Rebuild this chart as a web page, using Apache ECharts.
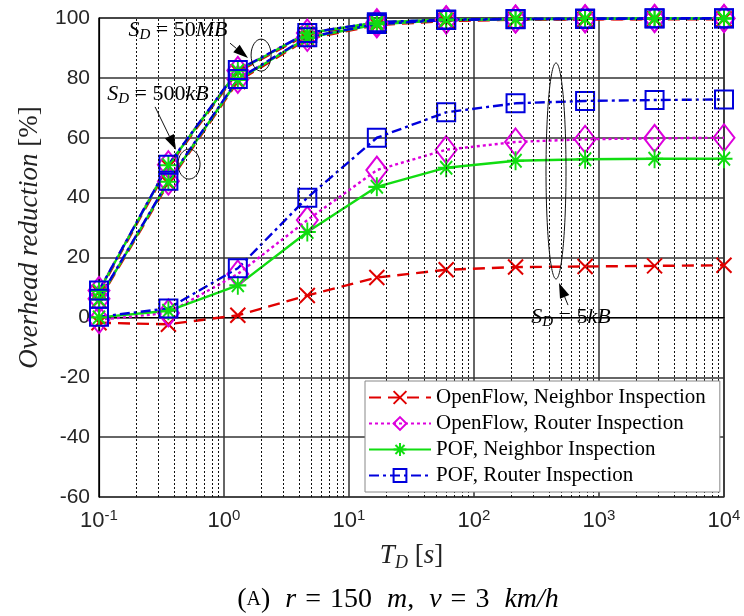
<!DOCTYPE html>
<html><head><meta charset="utf-8">
<script src="https://cdn.jsdelivr.net/npm/echarts@6/dist/echarts.min.js"></script>
<style>html,body{margin:0;padding:0;background:#fff}#c{width:744px;height:616px}</style>
</head><body><div id="c"></div>
<script>
// ---- data ----
const xValues = [0.1, 0.359, 1.29, 4.64, 16.7, 59.9, 215, 774, 2783, 10000];
const seriesNames = ['OpenFlow, Neighbor Inspection', 'OpenFlow, Router Inspection', 'POF, Neighbor Inspection', 'POF, Router Inspection'];
const xTickExponents = [-1, 0, 1, 2, 3, 4];
const yTicks = [-60, -40, -20, 0, 20, 40, 60, 80, 100];
const minorMultipliers = [2, 3, 4, 5, 6, 7, 8, 9];
const minorDecades = [0.1, 1, 10, 100, 1000];
// S_D = 5 kB
const ofNeighbor5k   = [-1.8, -2.3, 0.7, 7.3, 13.3, 15.9, 16.8, 17.0, 17.2, 17.4];
const ofRouter5k     = [-0.8, 1.5, 14.5, 32.5, 49.2, 56.0, 58.6, 59.5, 59.8, 60.0];
const pofNeighbor5k  = [0.0, 2.2, 10.7, 28.5, 43.6, 50.0, 52.3, 52.8, 53.0, 53.0];
const pofRouter5k    = [0.2, 3.0, 16.4, 40.0, 60.0, 68.5, 71.5, 72.3, 72.6, 72.8];
// S_D = 500 kB
const ofNeighbor500k  = [5.6, 44.8, 78.8, 93.0, 97.6, 99.0, 99.4, 99.5, 99.6, 99.6];
const ofRouter500k    = [6.2, 45.5, 79.5, 93.5, 98.0, 99.3, 99.6, 99.7, 99.8, 99.8];
const pofNeighbor500k = [6.0, 45.3, 79.3, 93.4, 97.9, 99.3, 99.6, 99.7, 99.8, 99.8];
const pofRouter500k   = [6.2, 45.6, 79.6, 93.6, 98.0, 99.3, 99.6, 99.7, 99.8, 99.8];
// S_D = 50 MB
const ofNeighbor50M  = [8.4, 50.3, 82.0, 94.5, 98.2, 99.3, 99.5, 99.6, 99.7, 99.7];
const ofRouter50M    = [9.0, 51.0, 82.5, 95.0, 98.5, 99.5, 99.7, 99.8, 99.9, 99.9];
const pofNeighbor50M = [8.8, 50.8, 82.4, 94.9, 98.5, 99.5, 99.7, 99.8, 99.9, 99.9];
const pofRouter50M   = [9.0, 51.0, 82.6, 95.0, 98.6, 99.5, 99.7, 99.8, 99.9, 99.9];

// ---- styles ----
const SERIF = 'Liberation Serif', SANS = 'Liberation Sans';
const X_PATH = 'path://M0,0L10,10M10,0L0,10';
const STAR_PATH = 'path://M5,0L5,10M0,5L10,5M1.46,1.46L8.54,8.54M8.54,1.46L1.46,8.54';
const styles = [
  { color: '#e00000', dash: [12, 7], symbol: X_PATH, size: 15 },
  { color: '#dd00dd', dash: [3, 3], symbol: 'diamond', size: [21, 27] },
  { color: '#11dd11', dash: 'solid', symbol: STAR_PATH, size: [17, 19] },
  { color: '#0000dd', dash: [10, 4, 3, 4], symbol: 'rect', size: 18 }
];
const groups = [
  [ofNeighbor5k, ofRouter5k, pofNeighbor5k, pofRouter5k],
  [ofNeighbor500k, ofRouter500k, pofNeighbor500k, pofRouter500k],
  [ofNeighbor50M, ofRouter50M, pofNeighbor50M, pofRouter50M]
];

const minorTicks = [];
minorDecades.forEach(d => minorMultipliers.forEach(m => minorTicks.push(d * m)));

const series = [{
  type: 'line', data: [], silent: true, animation: false, z: 1,
  markLine: {
    silent: true, symbol: 'none', animation: false, label: { show: false },
    lineStyle: { color: '#111', width: 1, type: [2, 2] },
    data: minorTicks.map(v => ({ xAxis: v }))
  }
}];
for (let s = 0; s < 4; s++) {
  for (let g = 0; g < groups.length; g++) {
    const st = styles[s];
    series.push({
      name: seriesNames[s], type: 'line', animation: false,
      data: xValues.map((x, i) => [x, groups[g][s][i]]),
      symbol: st.symbol, symbolSize: st.size, showSymbol: true,
      lineStyle: { color: st.color, width: 2.4, type: st.dash },
      itemStyle: { color: 'rgba(0,0,0,0)', borderColor: st.color, borderWidth: 2 },
      emphasis: { disabled: true }, z: 3
    });
  }
}

const chart = echarts.init(document.getElementById('c'), null, { renderer: 'canvas' });
chart.setOption({
  backgroundColor: '#fff',
  animation: false,
  grid: { left: 99, right: 20, top: 18, bottom: 119, show: true, borderColor: '#000', borderWidth: 1.2 },
  xAxis: {
    type: 'log', logBase: 10, min: 0.1, max: 10000,
    axisLine: { show: true, lineStyle: { color: '#000', width: 1.2 } },
    axisTick: { show: false },
    splitLine: { show: true, lineStyle: { color: '#333', width: 1.5 } },
    axisLabel: {
      margin: 11, color: '#262626',
      formatter: v => { const e = Math.round(Math.log10(v)); return xTickExponents.includes(e) ? '{b|10}{s|' + e + '}' : ''; },
      rich: {
        b: { fontFamily: SANS, fontSize: 22, color: '#262626', lineHeight: 26 },
        s: { fontFamily: SANS, fontSize: 15, color: '#262626', lineHeight: 15, verticalAlign: 'top' }
      }
    },
    name: '{i|T}{sub|D}{r| [}{i|s}{r|]}', nameLocation: 'middle', nameGap: 43,
    nameTextStyle: {
      rich: {
        i: { fontFamily: SERIF, fontStyle: 'italic', fontSize: 27, color: '#222', lineHeight: 32 },
        sub: { fontFamily: SERIF, fontStyle: 'italic', fontSize: 18, color: '#222', lineHeight: 18, verticalAlign: 'bottom' },
        r: { fontFamily: SERIF, fontSize: 27, color: '#222', lineHeight: 32 }
      }
    }
  },
  yAxis: {
    type: 'value', min: -60, max: 100, interval: 20,
    axisLine: { show: true, lineStyle: { color: '#000', width: 1.2 } },
    axisTick: { show: false },
    splitLine: { show: true, lineStyle: { color: '#333', width: 1.5 } },
    axisLabel: { fontFamily: SANS, fontSize: 21, color: '#262626', margin: 9 },
    name: '{i|Overhead reduction }{r|[%]}', nameLocation: 'middle', nameGap: 56, nameRotate: 90,
    nameTextStyle: {
      padding: [0, 0, 0, 40],
      rich: {
        i: { fontFamily: SERIF, fontStyle: 'italic', fontSize: 27, color: '#222' },
        r: { fontFamily: SERIF, fontSize: 27, color: '#222' }
      }
    }
  },
  legend: {
    orient: 'vertical', left: 365, top: 381, z: 20,
    itemWidth: 62, itemHeight: 16, itemGap: 5,
    padding: [6, 14, 6, 3],
    backgroundColor: '#fff', borderColor: '#888', borderWidth: 1,
    textStyle: { fontFamily: SERIF, fontSize: 21, lineHeight: 18, color: '#000' },
    data: seriesNames
  },
  series: series
});

// ---- annotations anchored in data coordinates ----
const richNote = {
  i: { fontFamily: SERIF, fontStyle: 'italic', fontSize: 22, color: '#111', lineHeight: 26 },
  sub: { fontFamily: SERIF, fontStyle: 'italic', fontSize: 15, color: '#111', lineHeight: 15, verticalAlign: 'bottom' },
  r: { fontFamily: SERIF, fontSize: 22, color: '#111', lineHeight: 26 }
};
const notes = [
  { label: '{i|S}{sub|D}{r| = 50}{i|MB}', text: [0.428, 96], tail: [1.117, 91.6], tip: [1.556, 86.6], ell: [1.98, 87.6], rx: 10, ry: 16 },
  { label: '{i|S}{sub|D}{r| = 500}{i|kB}', text: [0.296, 74.6], tail: [0.281, 70.3], tip: [0.413, 56], ell: [0.525, 51.2], rx: 11, ry: 15 },
  { label: '{i|S}{sub|D}{r| = 5}{i|kB}', text: [597, 0.13], tail: [565, 4.1], tip: [478.6, 11.5], ell: [453, 48.9], rx: 10, ry: 108 }
];
const P = v => chart.convertToPixel({ xAxisIndex: 0, yAxisIndex: 0 }, v);
const elems = [];
notes.forEach(n => {
  const t = P(n.text), a = P(n.tail), b = P(n.tip), e = P(n.ell);
  const dx = b[0] - a[0], dy = b[1] - a[1], L = Math.hypot(dx, dy);
  const ux = dx / L, uy = dy / L, hl = 15, hw = 5;
  const bx = b[0] - ux * hl, by = b[1] - uy * hl;
  elems.push({ type: 'ellipse', shape: { cx: e[0], cy: e[1], rx: n.rx, ry: n.ry }, style: { fill: 'none', stroke: '#111', lineWidth: 1 }, z: 10 });
  elems.push({ type: 'line', shape: { x1: a[0], y1: a[1], x2: bx, y2: by }, style: { stroke: '#111', lineWidth: 1 }, z: 10 });
  elems.push({ type: 'polygon', shape: { points: [[b[0], b[1]], [bx - uy * hw, by + ux * hw], [bx + uy * hw, by - ux * hw]] }, style: { fill: '#000' }, z: 10 });
  elems.push({ type: 'text', x: t[0], y: t[1], style: { text: n.label, rich: richNote, align: 'center', verticalAlign: 'middle' }, z: 10 });
});
elems.push({
  type: 'text', x: 398, y: 600,
  style: {
    text: '{r|(}{sc|A}{r|)}{sp| }{i|r}{eq|=}{r|150}{sp| }{i|m}{r|,}{sp| }{i|v}{eq|=}{r|3}{sp| }{i|km/h}',
    align: 'center', verticalAlign: 'middle',
    rich: {
      r: { fontFamily: SERIF, fontSize: 28, color: '#111' },
      sp: { fontFamily: SERIF, fontSize: 28, color: '#111', padding: [0, 4, 0, 4] },
      eq: { fontFamily: SERIF, fontSize: 28, color: '#111', padding: [0, 9, 0, 9] },
      sc: { fontFamily: SERIF, fontSize: 20, color: '#111' },
      i: { fontFamily: SERIF, fontStyle: 'italic', fontSize: 28, color: '#111' }
    }
  }
});
chart.setOption({ graphic: elems });
</script>
</body></html>
